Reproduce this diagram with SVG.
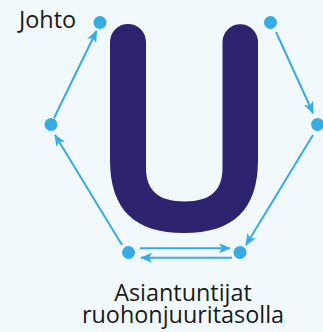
<svg xmlns="http://www.w3.org/2000/svg" width="323" height="332" viewBox="0 0 323 332">
<style>
.dot{fill:#37ace2}
.c{stroke:#37ace2;stroke-width:2;fill:none;marker-end:url(#ah)}
.t{font-family:"Open Sans","Noto Sans",sans-serif;font-size:23.4px;fill:#1a1a1a}
</style>
<defs>
<marker id="ah" markerUnits="userSpaceOnUse" markerWidth="14" markerHeight="12" refX="11" refY="5" orient="auto">
<path d="M0,0 L12,5 L0,10 L3,5 z" fill="#37ace2"/>
</marker>
</defs>
<rect width="323" height="332" fill="#f2f9fd"/>
<g id="u-letter">
<path d="M110,42 A18,18 0 0 1 146,42 V168 C146,190 158,201.5 184.5,201.5 C211,201.5 222.5,190 222.5,168 V42 A17.75,17.75 0 0 1 258,42 V160 C258,210 233,233 184,233 C135,233 110,210 110,160 Z" fill="#2d236f"/>
</g>
<g id="connectors">
<line class="c" x1="54" y1="118" x2="96.5" y2="31"/>
<line class="c" x1="122" y1="245" x2="55" y2="135"/>
<line class="c" x1="276" y1="32" x2="313" y2="113"/>
<line class="c" x1="313" y1="135" x2="246" y2="245"/>
<line class="c" x1="140" y1="248.3" x2="230" y2="248.3"/>
<line class="c" x1="232" y1="257.7" x2="141" y2="257.7"/>
</g>
<g id="node-johto"><circle class="dot" cx="100" cy="22.5" r="6.5"/><text class="t" x="19" y="28.3">Johto</text></g>
<g id="node-topright"><circle class="dot" cx="270.5" cy="22.5" r="6.5"/></g>
<g id="node-right"><circle class="dot" cx="317.5" cy="124.5" r="6.5"/></g>
<g id="node-left"><circle class="dot" cx="51" cy="124.5" r="6.5"/></g>
<g id="node-bottomleft"><circle class="dot" cx="128.5" cy="252.5" r="6.5"/></g>
<g id="node-bottomright"><circle class="dot" cx="240" cy="252.5" r="6.5"/></g>
<g id="label-asiantuntijat"><text class="t" x="183" y="301" text-anchor="middle">Asiantuntijat</text><text class="t" x="183" y="323.3" text-anchor="middle">ruohonjuuritasolla</text></g>
</svg>
